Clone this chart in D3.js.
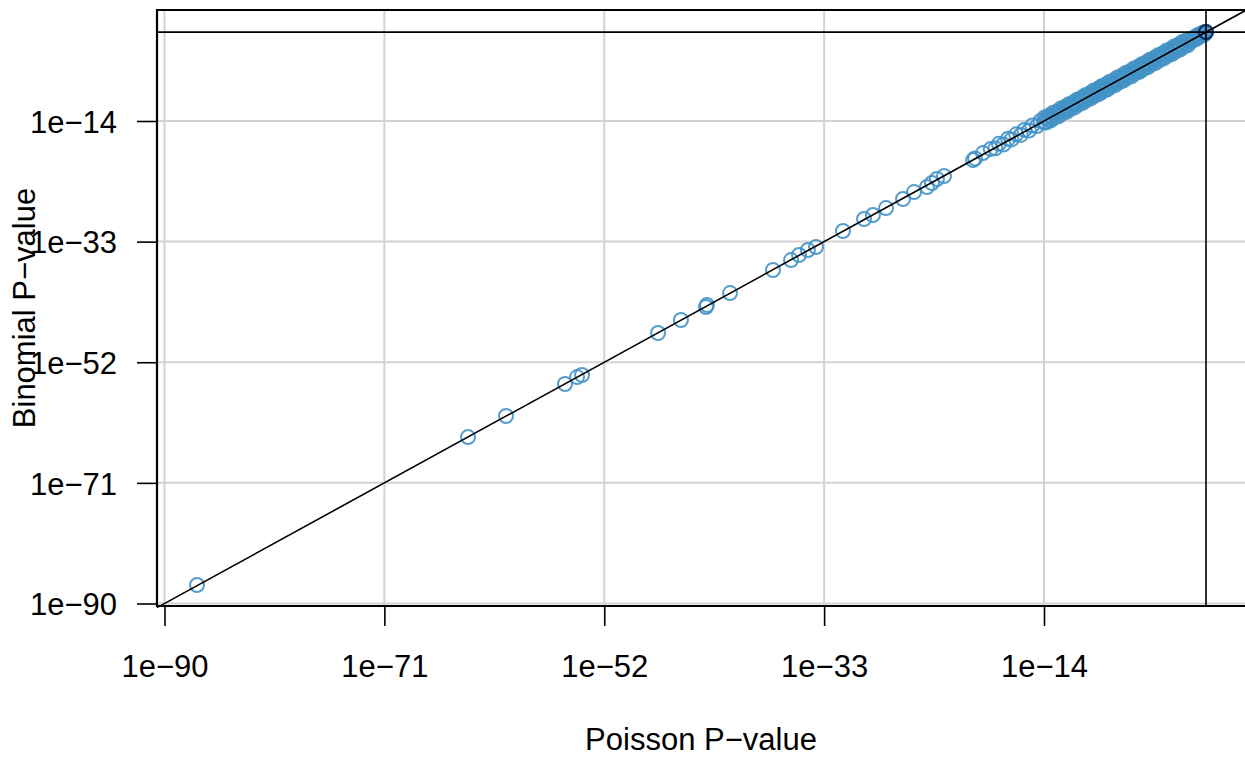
<!DOCTYPE html>
<html>
<head>
<meta charset="utf-8">
<script src="https://cdn.jsdelivr.net/npm/d3@7"></script>
<style>
  html, body { margin: 0; padding: 0; background: #fff; }
  svg { display: block; font-family: "Liberation Sans", Arial, Helvetica, sans-serif; }
</style>
</head>
<body>
<svg id="chart" width="1245" height="757"></svg>
<script>
// ---- data (log10 of p-values) ----
const poissonLog10 = [
  -87.19, -63.77, -60.49, -55.39, -54.35, -53.92, -47.35, -45.37, -43.21, -43.12,
  -41.13, -37.42, -35.86, -35.17, -34.40, -33.70, -31.37, -29.55, -28.78, -27.65,
  -26.18, -25.23, -24.11, -23.68, -23.25, -22.64, -20.13, -19.95, -19.27,
  -18.6, -18.2, -17.9, -17.5, -17.1, -16.8, -16.4, -16.0, -15.7, -15.3,
  -15.0, -14.6, -14.3, -14.0,
  -13.95, -13.85, -13.75, -13.65, -13.55, -13.45, -13.35, -13.25, -13.15, -13.05,
  -12.95, -12.85, -12.75, -12.65, -12.55, -12.45, -12.35, -12.25, -12.15, -12.05,
  -11.95, -11.85, -11.75, -11.65, -11.55, -11.45, -11.35, -11.25, -11.15, -11.05,
  -10.95, -10.85, -10.75, -10.65, -10.55, -10.45, -10.35, -10.25, -10.15, -10.05,
  -9.95, -9.85, -9.75, -9.65, -9.55, -9.45, -9.35, -9.25, -9.15, -9.05,
  -8.95, -8.85, -8.75, -8.65, -8.55, -8.45, -8.35, -8.25, -8.15, -8.05,
  -7.95, -7.85, -7.75, -7.65, -7.55, -7.45, -7.35, -7.25, -7.15, -7.05,
  -6.95, -6.85, -6.75, -6.65, -6.55, -6.45, -6.35, -6.25, -6.15, -6.05,
  -5.95, -5.85, -5.75, -5.65, -5.55, -5.45, -5.35, -5.25, -5.15, -5.05,
  -4.95, -4.85, -4.75, -4.65, -4.55, -4.45, -4.35, -4.25, -4.15, -4.05,
  -3.95, -3.85, -3.75, -3.65, -3.55, -3.45, -3.35, -3.25, -3.15, -3.05,
  -2.95, -2.85, -2.75, -2.65, -2.55, -2.45, -2.35, -2.25, -2.15, -2.05,
  -1.95, -1.85, -1.75, -1.65, -1.55, -1.45, -1.35, -1.25, -1.15, -1.05,
  -0.95, -0.85, -0.75, -0.65, -0.55, -0.45, -0.35, -0.25, -0.15, -0.05
];
const binomialLog10 = [
  -87.09, -63.78, -60.47, -55.43, -54.33, -54.01, -47.39, -45.35, -43.30, -42.98,
  -41.10, -37.47, -35.90, -35.11, -34.32, -33.85, -31.33, -29.44, -28.81, -27.71,
  -26.29, -25.19, -24.40, -23.77, -23.14, -22.67, -20.15, -19.90, -19.05,
  -18.4, -18.3, -17.6, -17.7, -16.8, -16.9, -16.1, -16.2, -15.4, -15.5,
  -14.7, -14.8, -14.0, -14.2,
  -13.45, -14.25, -13.55, -13.85, -13.15, -13.95, -13.35, -12.75, -13.55, -12.85,
  -13.15, -12.45, -13.25, -12.65, -12.05, -12.85, -12.15, -12.45, -11.75, -12.55,
  -11.95, -11.35, -12.15, -11.45, -11.75, -11.05, -11.85, -11.25, -10.65, -11.45,
  -10.75, -11.05, -10.35, -11.15, -10.55, -9.95, -10.75, -10.05, -10.35, -9.65,
  -10.45, -9.85, -9.25, -10.05, -9.35, -9.65, -8.95, -9.75, -9.15, -8.55,
  -9.35, -8.65, -8.95, -8.25, -9.05, -8.45, -7.85, -8.65, -7.95, -8.25,
  -7.55, -8.35, -7.75, -7.15, -7.95, -7.25, -7.55, -6.85, -7.65, -7.05,
  -6.45, -7.25, -6.55, -6.85, -6.15, -6.95, -6.35, -5.75, -6.55, -5.85,
  -6.15, -5.45, -6.25, -5.65, -5.05, -5.85, -5.15, -5.45, -4.75, -5.55,
  -4.95, -4.35, -5.15, -4.45, -4.75, -4.05, -4.85, -4.25, -3.65, -4.45,
  -3.75, -4.05, -3.35, -4.15, -3.55, -2.95, -3.75, -3.05, -3.35, -2.65,
  -3.45, -2.85, -2.25, -3.05, -2.35, -2.65, -1.95, -2.75, -2.15, -1.55,
  -2.35, -1.65, -1.95, -1.25, -2.05, -1.45, -1.10, -1.45, -1.05, -1.15,
  -0.75, -1.10, -0.75, -0.40, -0.75, -0.35, -0.45, -0.05, -0.40, -0.05
];
// points sitting at p = 1 (drawn darker where they pile up)
const topPoissonLog10 = [0, 0, 0];
const topBinomialLog10 = [0, 0, 0];

const tickExponents = [-90, -71, -52, -33, -14];
const tickLabels = ["1e\u221290", "1e\u221271", "1e\u221252", "1e\u221233", "1e\u221214"];
const xTitle = "Poisson P\u2212value";
const yTitle = "Binomial P\u2212value";

// ---- layout ----
const plot = { left: 157, right: 1245, top: 10, bottom: 606 };
const FS = 31;

const x = d3.scaleLog().domain([Math.pow(10, -90.648), Math.pow(10, 3.370)]).range([plot.left, plot.right]);
const y = d3.scaleLog().domain([Math.pow(10, -90.394), Math.pow(10, 3.483)]).range([plot.bottom, plot.top]);

const svg = d3.select("#chart");
const tickVals = tickExponents.map(e => Math.pow(10, e));
const labelOf = v => tickLabels[tickVals.indexOf(v)];

// grid
const grid = svg.append("g").attr("stroke", "#d3d3d3").attr("stroke-width", 2);
grid.selectAll("line.v").data(tickVals).join("line").attr("class", "v")
  .attr("x1", d => x(d)).attr("x2", d => x(d)).attr("y1", plot.top).attr("y2", plot.bottom);
grid.selectAll("line.h").data(tickVals).join("line").attr("class", "h")
  .attr("y1", d => y(d)).attr("y2", d => y(d)).attr("x1", plot.left).attr("x2", plot.right);

// points
const pts = poissonLog10.map((v, i) => ({ px: Math.pow(10, v), py: Math.pow(10, binomialLog10[i]) }));
svg.append("g").selectAll("circle").data(pts).join("circle")
  .attr("cx", d => x(d.px)).attr("cy", d => y(d.py)).attr("r", 7)
  .attr("fill", "none").attr("stroke", "#4292c6").attr("stroke-opacity", 0.9).attr("stroke-width", 2);
const tops = topPoissonLog10.map((v, i) => ({ px: Math.pow(10, v), py: Math.pow(10, topBinomialLog10[i]) }));
svg.append("g").selectAll("circle").data(tops).join("circle")
  .attr("cx", d => x(d.px)).attr("cy", d => y(d.py)).attr("r", 7)
  .attr("fill", "none").attr("stroke", "#08306b").attr("stroke-opacity", 0.6).attr("stroke-width", 2);

// reference lines
const lines = svg.append("g").attr("stroke", "#000").attr("stroke-width", 1.6).attr("fill", "none");
lines.append("line").attr("x1", plot.left).attr("x2", plot.right).attr("y1", y(1)).attr("y2", y(1));
lines.append("line").attr("x1", x(1)).attr("x2", x(1)).attr("y1", plot.top).attr("y2", plot.bottom);
const lo = Math.pow(10, -90.648), hi = Math.pow(10, 3.483);
lines.append("line").attr("x1", x(lo)).attr("y1", y(lo)).attr("x2", x(hi)).attr("y2", y(hi));

// frame
const frame = svg.append("g").attr("stroke", "#000").attr("stroke-width", 2.2).attr("fill", "none");
frame.append("line").attr("x1", plot.left).attr("x2", plot.left).attr("y1", plot.top - 1).attr("y2", plot.bottom + 1);
frame.append("line").attr("x1", plot.left - 1).attr("x2", plot.right).attr("y1", plot.top).attr("y2", plot.top);
frame.append("line").attr("x1", plot.left - 1).attr("x2", plot.right).attr("y1", plot.bottom).attr("y2", plot.bottom);

// axes
const xAxis = d3.axisBottom(x).tickValues(tickVals).tickFormat(labelOf).tickSizeInner(20).tickSizeOuter(0).tickPadding(29);
const gx = svg.append("g").attr("transform", `translate(0,${plot.bottom})`).call(xAxis);
gx.select(".domain").remove();
gx.selectAll(".tick line").attr("stroke", "#000").attr("stroke-width", 1.6);
gx.selectAll(".tick text").attr("font-size", FS).attr("fill", "#000").attr("font-family", "Liberation Sans, Arial, sans-serif");

const yAxis = d3.axisLeft(y).tickValues(tickVals).tickFormat(labelOf).tickSizeInner(20).tickSizeOuter(0).tickPadding(20);
const gy = svg.append("g").attr("transform", `translate(${plot.left},0)`).call(yAxis);
gy.select(".domain").remove();
gy.selectAll(".tick line").attr("stroke", "#000").attr("stroke-width", 1.6);
gy.selectAll(".tick text").attr("font-size", FS).attr("fill", "#000").attr("dy", "0.36em").attr("font-family", "Liberation Sans, Arial, sans-serif");

// titles
svg.append("text").attr("x", (plot.left + plot.right) / 2).attr("y", 750)
  .attr("text-anchor", "middle").attr("font-size", FS).attr("fill", "#000").text(xTitle);
svg.append("text").attr("transform", `translate(35,${(plot.top + plot.bottom) / 2}) rotate(-90)`)
  .attr("text-anchor", "middle").attr("font-size", FS).attr("fill", "#000").text(yTitle);
</script>
</body>
</html>
